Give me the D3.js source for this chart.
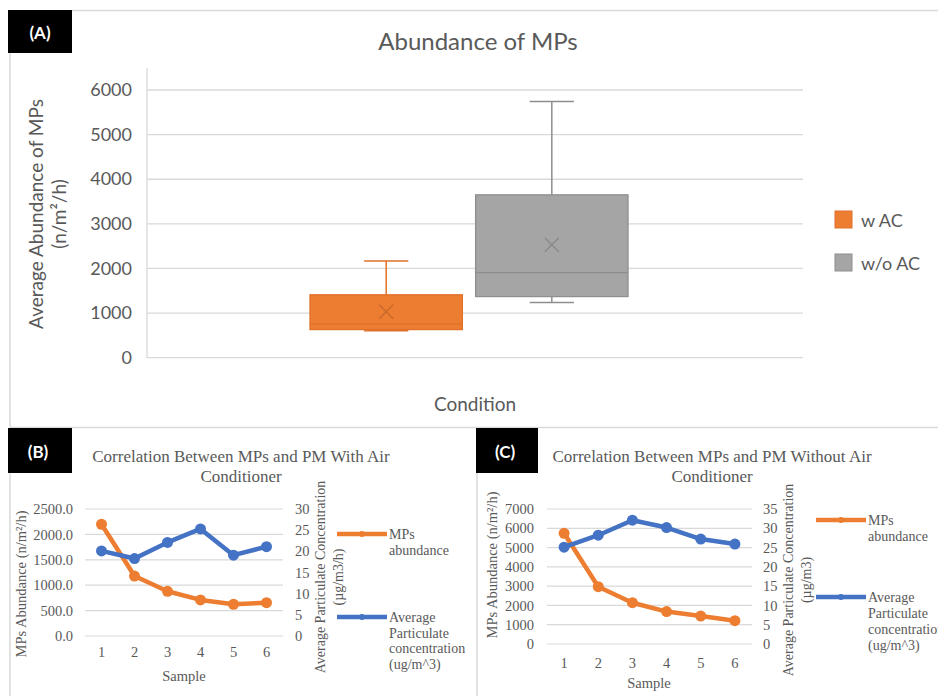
<!DOCTYPE html>
<html>
<head>
<meta charset="utf-8">
<script src="https://cdn.jsdelivr.net/npm/d3@7"></script>
<style>
  body { margin: 0; background: #fff; }
  svg { display: block; }
</style>
</head>
<body>
<svg id="chart" width="938" height="696"></svg>
<script>
// ---------------- DATA ----------------
// Panel A: box plot
const conditions = ["w AC", "w/o AC"];
const boxMin    = [605, 1240];
const boxQ1     = [630, 1370];
const boxMedian = [760, 1905];
const boxQ3     = [1410, 3650];
const boxMax    = [2170, 5740];
const boxMean   = [1030, 2530];
const ticksA    = [0, 1000, 2000, 3000, 4000, 5000, 6000];

// Panels B & C: line charts
const samples       = [1, 2, 3, 4, 5, 6];
const mpsWithAC     = [2200, 1180, 880, 710, 625, 655];
const pmWithAC      = [20.1, 18.3, 22.1, 25.3, 19.1, 21.1];
const mpsWithoutAC  = [5740, 2970, 2140, 1680, 1450, 1210];
const pmWithoutAC   = [25.1, 28.2, 32.1, 30.2, 27.2, 25.9];
const ticksBLeft    = [0, 500, 1000, 1500, 2000, 2500];
const ticksBRight   = [0, 5, 10, 15, 20, 25, 30];
const ticksCLeft    = [0, 1000, 2000, 3000, 4000, 5000, 6000, 7000];
const ticksCRight   = [0, 5, 10, 15, 20, 25, 30, 35];

// ---------------- STYLE ----------------
const ORANGE = "#ED7D31", GRAY = "#A5A5A5", BLUE = "#4472C4";
const TXT = "#595959", GRID = "#D9D9D9", BORDER = "#D9D9D9";
const SANS = "Lato, 'Open Sans', sans-serif";
const SERIF = "'Liberation Serif', 'DejaVu Serif', serif";

const svg = d3.select("#chart");

// ---------------- FRAMES ----------------
function line(x1, y1, x2, y2, color, w) {
  svg.append("line").attr("x1", x1).attr("y1", y1).attr("x2", x2).attr("y2", y2)
    .attr("stroke", color).attr("stroke-width", w || 1.5);
}
line(72, 10.5, 938, 10.5, BORDER, 1.5);
line(10, 53, 10, 427, BORDER, 1.5);
line(10, 427.5, 938, 427.5, BORDER, 1.5);
line(10, 473, 10, 696, BORDER, 1.5);
line(477, 473, 477, 696, BORDER, 1.5);

function labelBox(x, y, w, h, t, cx, by) {
  svg.append("rect").attr("x", x).attr("y", y).attr("width", w).attr("height", h).attr("fill", "#000");
  svg.append("text").attr("x", cx).attr("y", by).attr("text-anchor", "middle")
    .attr("fill", "#fff").attr("font-family", SANS).attr("font-weight", "bold")
    .attr("font-size", 17).text(t);
}
labelBox(8, 10, 64, 43, "(A)", 40, 39);
labelBox(8, 428, 64, 45, "(B)", 38, 458);
labelBox(476, 428, 62, 45, "(C)", 505, 458);

// ---------------- PANEL A ----------------
const gA = svg.append("g");
const yA = d3.scaleLinear().domain([0, 6000]).range([357.7, 90]);
const xA = d3.scaleBand().domain(conditions).range([310, 628]).paddingInner(0.08);
const plotA = { left: 147, right: 803 };

gA.append("text").attr("x", 478).attr("y", 50).attr("text-anchor", "middle")
  .attr("fill", TXT).attr("font-family", SANS).attr("font-size", 24).text("Abundance of MPs");

// gridlines
gA.selectAll(".gridA").data(ticksA).join("line")
  .attr("x1", plotA.left).attr("x2", plotA.right)
  .attr("y1", d => yA(d)).attr("y2", d => yA(d))
  .attr("stroke", GRID).attr("stroke-width", 1.3);
// vertical axis line
gA.append("line").attr("x1", plotA.left).attr("x2", plotA.left)
  .attr("y1", 68).attr("y2", yA(0)).attr("stroke", GRID).attr("stroke-width", 1.3);

// axis labels
const axA = d3.axisLeft(yA).tickValues(ticksA).tickSize(0).tickPadding(0).tickFormat(d3.format("d"));
const axAg = gA.append("g").attr("transform", "translate(132,0)").call(axA);
axAg.select(".domain").remove();
axAg.selectAll("text").attr("fill", TXT).attr("font-family", SANS).attr("font-size", 18);

// y title
gA.append("text").attr("transform", "translate(43,214) rotate(-90)").attr("text-anchor", "middle")
  .attr("fill", TXT).attr("font-family", SANS).attr("font-size", 19).text("Average Abundance of MPs");
gA.append("text").attr("transform", "translate(66,214) rotate(-90)").attr("text-anchor", "middle")
  .attr("fill", TXT).attr("font-family", SANS).attr("font-size", 19).text("(n/m²/h)");

// x title
gA.append("text").attr("x", 475).attr("y", 411).attr("text-anchor", "middle")
  .attr("fill", TXT).attr("font-family", SANS).attr("font-size", 19).text("Condition");

const fills   = [ORANGE, GRAY];
const strokes = ["#E0712A", "#8E8E8E"];
const xMarks  = ["#C9692C", "#8A8A8A"];

conditions.forEach((c, i) => {
  const x0 = xA(c), bw = xA.bandwidth(), cx = x0 + bw / 2, cap = bw * 0.29;
  const g = gA.append("g");
  // whiskers
  g.append("line").attr("x1", cx).attr("x2", cx).attr("y1", yA(boxQ3[i])).attr("y2", yA(boxMax[i]))
    .attr("stroke", strokes[i]).attr("stroke-width", 1.5);
  g.append("line").attr("x1", cx).attr("x2", cx).attr("y1", yA(boxQ1[i])).attr("y2", yA(boxMin[i]))
    .attr("stroke", strokes[i]).attr("stroke-width", 1.5);
  g.append("line").attr("x1", cx - cap / 2).attr("x2", cx + cap / 2).attr("y1", yA(boxMax[i])).attr("y2", yA(boxMax[i]))
    .attr("stroke", strokes[i]).attr("stroke-width", 1.5);
  g.append("line").attr("x1", cx - cap / 2).attr("x2", cx + cap / 2).attr("y1", yA(boxMin[i])).attr("y2", yA(boxMin[i]))
    .attr("stroke", strokes[i]).attr("stroke-width", 1.5);
  // box
  g.append("rect").attr("x", x0).attr("width", bw)
    .attr("y", yA(boxQ3[i])).attr("height", yA(boxQ1[i]) - yA(boxQ3[i]))
    .attr("fill", fills[i]).attr("stroke", strokes[i]).attr("stroke-width", 1.3);
  // median
  g.append("line").attr("x1", x0).attr("x2", x0 + bw).attr("y1", yA(boxMedian[i])).attr("y2", yA(boxMedian[i]))
    .attr("stroke", strokes[i]).attr("stroke-width", 1.3);
  // mean X
  const my = yA(boxMean[i]), s = 7;
  g.append("path").attr("d", `M${cx - s},${my - s}L${cx + s},${my + s}M${cx - s},${my + s}L${cx + s},${my - s}`)
    .attr("stroke", xMarks[i]).attr("stroke-width", 1.5).attr("fill", "none");
});

// legend A
const legA = gA.append("g");
conditions.forEach((c, i) => {
  const ly = [211, 254][i];
  legA.append("rect").attr("x", 835).attr("y", ly).attr("width", 17).attr("height", 17)
    .attr("fill", fills[i]).attr("stroke", strokes[i]).attr("stroke-width", 1);
  legA.append("text").attr("x", 861).attr("y", ly + 15.5).attr("fill", TXT)
    .attr("font-family", SANS).attr("font-size", 18).text(c);
});

// ---------------- PANELS B & C ----------------
function linePanel(cfg) {
  const g = svg.append("g");
  const x = d3.scaleBand().domain(samples).range([cfg.left, cfg.right]);
  const yL = d3.scaleLinear().domain([0, cfg.leftMax]).range([cfg.bottom, cfg.top]);
  const yR = d3.scaleLinear().domain([0, cfg.rightMax]).range([cfg.bottom, cfg.top]);

  // title
  cfg.title.forEach((t, k) => {
    g.append("text").attr("x", cfg.titleX).attr("y", cfg.titleY + k * 20).attr("text-anchor", "middle")
      .attr("fill", TXT).attr("font-family", SERIF).attr("font-size", 17).text(t);
  });

  // gridlines
  g.selectAll(".grid").data(cfg.leftTicks).join("line")
    .attr("x1", cfg.left).attr("x2", cfg.right)
    .attr("y1", d => yL(d)).attr("y2", d => yL(d))
    .attr("stroke", GRID).attr("stroke-width", 1.2);

  // left axis labels
  const aL = d3.axisLeft(yL).tickValues(cfg.leftTicks).tickSize(0).tickPadding(0).tickFormat(cfg.leftFmt);
  const aLg = g.append("g").attr("transform", `translate(${cfg.leftLabelX},0)`).call(aL);
  aLg.select(".domain").remove();
  aLg.attr("font-family", SERIF);
  aLg.selectAll("text").attr("fill", TXT).attr("font-family", SERIF).attr("font-size", 14.5);

  // right axis labels
  const aR = d3.axisRight(yR).tickValues(cfg.rightTicks).tickSize(0).tickPadding(0);
  const aRg = g.append("g").attr("transform", `translate(${cfg.rightLabelX},0)`).call(aR);
  aRg.select(".domain").remove();
  aRg.attr("font-family", SERIF);
  aRg.selectAll("text").attr("fill", TXT).attr("font-family", SERIF).attr("font-size", 14.5);

  // x axis labels
  const aX = d3.axisBottom(x).tickSize(0).tickPadding(0);
  const aXg = g.append("g").attr("transform", `translate(0,${cfg.xLabelY})`).call(aX);
  aXg.select(".domain").remove();
  aXg.attr("font-family", SERIF);
  aXg.selectAll("text").attr("fill", TXT).attr("font-family", SERIF).attr("font-size", 14.5).attr("dy", 0);

  g.append("text").attr("x", cfg.sampleX).attr("y", cfg.sampleY).attr("text-anchor", "middle")
    .attr("fill", TXT).attr("font-family", SERIF).attr("font-size", 14.5).text("Sample");

  // axis titles
  g.append("text").attr("transform", `translate(${cfg.leftTitleX},${cfg.leftTitleY}) rotate(-90)`)
    .attr("text-anchor", "middle").attr("fill", TXT).attr("font-family", SERIF).attr("font-size", 14.5)
    .text("MPs Abundance (n/m²/h)");
  cfg.rightTitle.forEach((t, k) => {
    g.append("text").attr("transform", `translate(${cfg.rightTitleX + k * 18},${cfg.rightTitleY}) rotate(-90)`)
      .attr("text-anchor", "middle").attr("fill", TXT).attr("font-family", SERIF).attr("font-size", 14)
      .text(t);
  });

  const cx = d => x(d) + x.bandwidth() / 2;
  const lnL = d3.line().x((d, i) => cx(samples[i])).y(d => yL(d));
  const lnR = d3.line().x((d, i) => cx(samples[i])).y(d => yR(d));

  g.append("path").attr("d", lnL(cfg.mps)).attr("fill", "none").attr("stroke", ORANGE)
    .attr("stroke-width", 4.5).attr("stroke-linejoin", "round");
  g.selectAll(".mo").data(cfg.mps).join("circle")
    .attr("cx", (d, i) => cx(samples[i])).attr("cy", d => yL(d)).attr("r", 5.5).attr("fill", ORANGE);

  g.append("path").attr("d", lnR(cfg.pm)).attr("fill", "none").attr("stroke", BLUE)
    .attr("stroke-width", 4.5).attr("stroke-linejoin", "round");
  g.selectAll(".po").data(cfg.pm).join("circle")
    .attr("cx", (d, i) => cx(samples[i])).attr("cy", d => yR(d)).attr("r", 5.5).attr("fill", BLUE);

  // legend
  const legItems = [
    { color: ORANGE, y: cfg.legY[0], lines: ["MPs", "abundance"] },
    { color: BLUE, y: cfg.legY[1], lines: ["Average", "Particulate", "concentration", "(ug/m^3)"] }
  ];
  legItems.forEach(it => {
    g.append("line").attr("x1", cfg.legX).attr("x2", cfg.legX + 50).attr("y1", it.y).attr("y2", it.y)
      .attr("stroke", it.color).attr("stroke-width", 4.5);
    g.append("circle").attr("cx", cfg.legX + 25).attr("cy", it.y).attr("r", 3).attr("fill", it.color);
    it.lines.forEach((t, k) => {
      g.append("text").attr("x", cfg.legX + 52).attr("y", it.y + 5 + k * cfg.legLH)
        .attr("fill", TXT).attr("font-family", SERIF).attr("font-size", 14).text(t);
    });
  });
}

linePanel({
  left: 85, right: 283, top: 509, bottom: 636,
  leftMax: 2500, rightMax: 30,
  leftTicks: ticksBLeft, rightTicks: ticksBRight, leftFmt: d3.format(".1f"),
  leftLabelX: 73, rightLabelX: 295, xLabelY: 657,
  sampleX: 184, sampleY: 681,
  title: ["Correlation Between MPs and PM With Air", "Conditioner"], titleX: 241, titleY: 462,
  leftTitleX: 26, leftTitleY: 584,
  rightTitle: ["Average Particulate Concentration", "(µg/m3/h)"], rightTitleX: 325, rightTitleY: 577,
  mps: mpsWithAC, pm: pmWithAC,
  legX: 337, legY: [534, 617], legLH: 15.7
});

linePanel({
  left: 547, right: 752, top: 509, bottom: 644,
  leftMax: 7000, rightMax: 35,
  leftTicks: ticksCLeft, rightTicks: ticksCRight, leftFmt: d3.format("d"),
  leftLabelX: 534, rightLabelX: 763, xLabelY: 668,
  sampleX: 649, sampleY: 688,
  title: ["Correlation Between MPs and PM Without Air", "Conditioner"], titleX: 712, titleY: 462,
  leftTitleX: 497, leftTitleY: 565,
  rightTitle: ["Average Particulate Concentration", "(µg/m3)"], rightTitleX: 793, rightTitleY: 580,
  mps: mpsWithoutAC, pm: pmWithoutAC,
  legX: 816, legY: [520, 597], legLH: 16
});
</script>
</body>
</html>
